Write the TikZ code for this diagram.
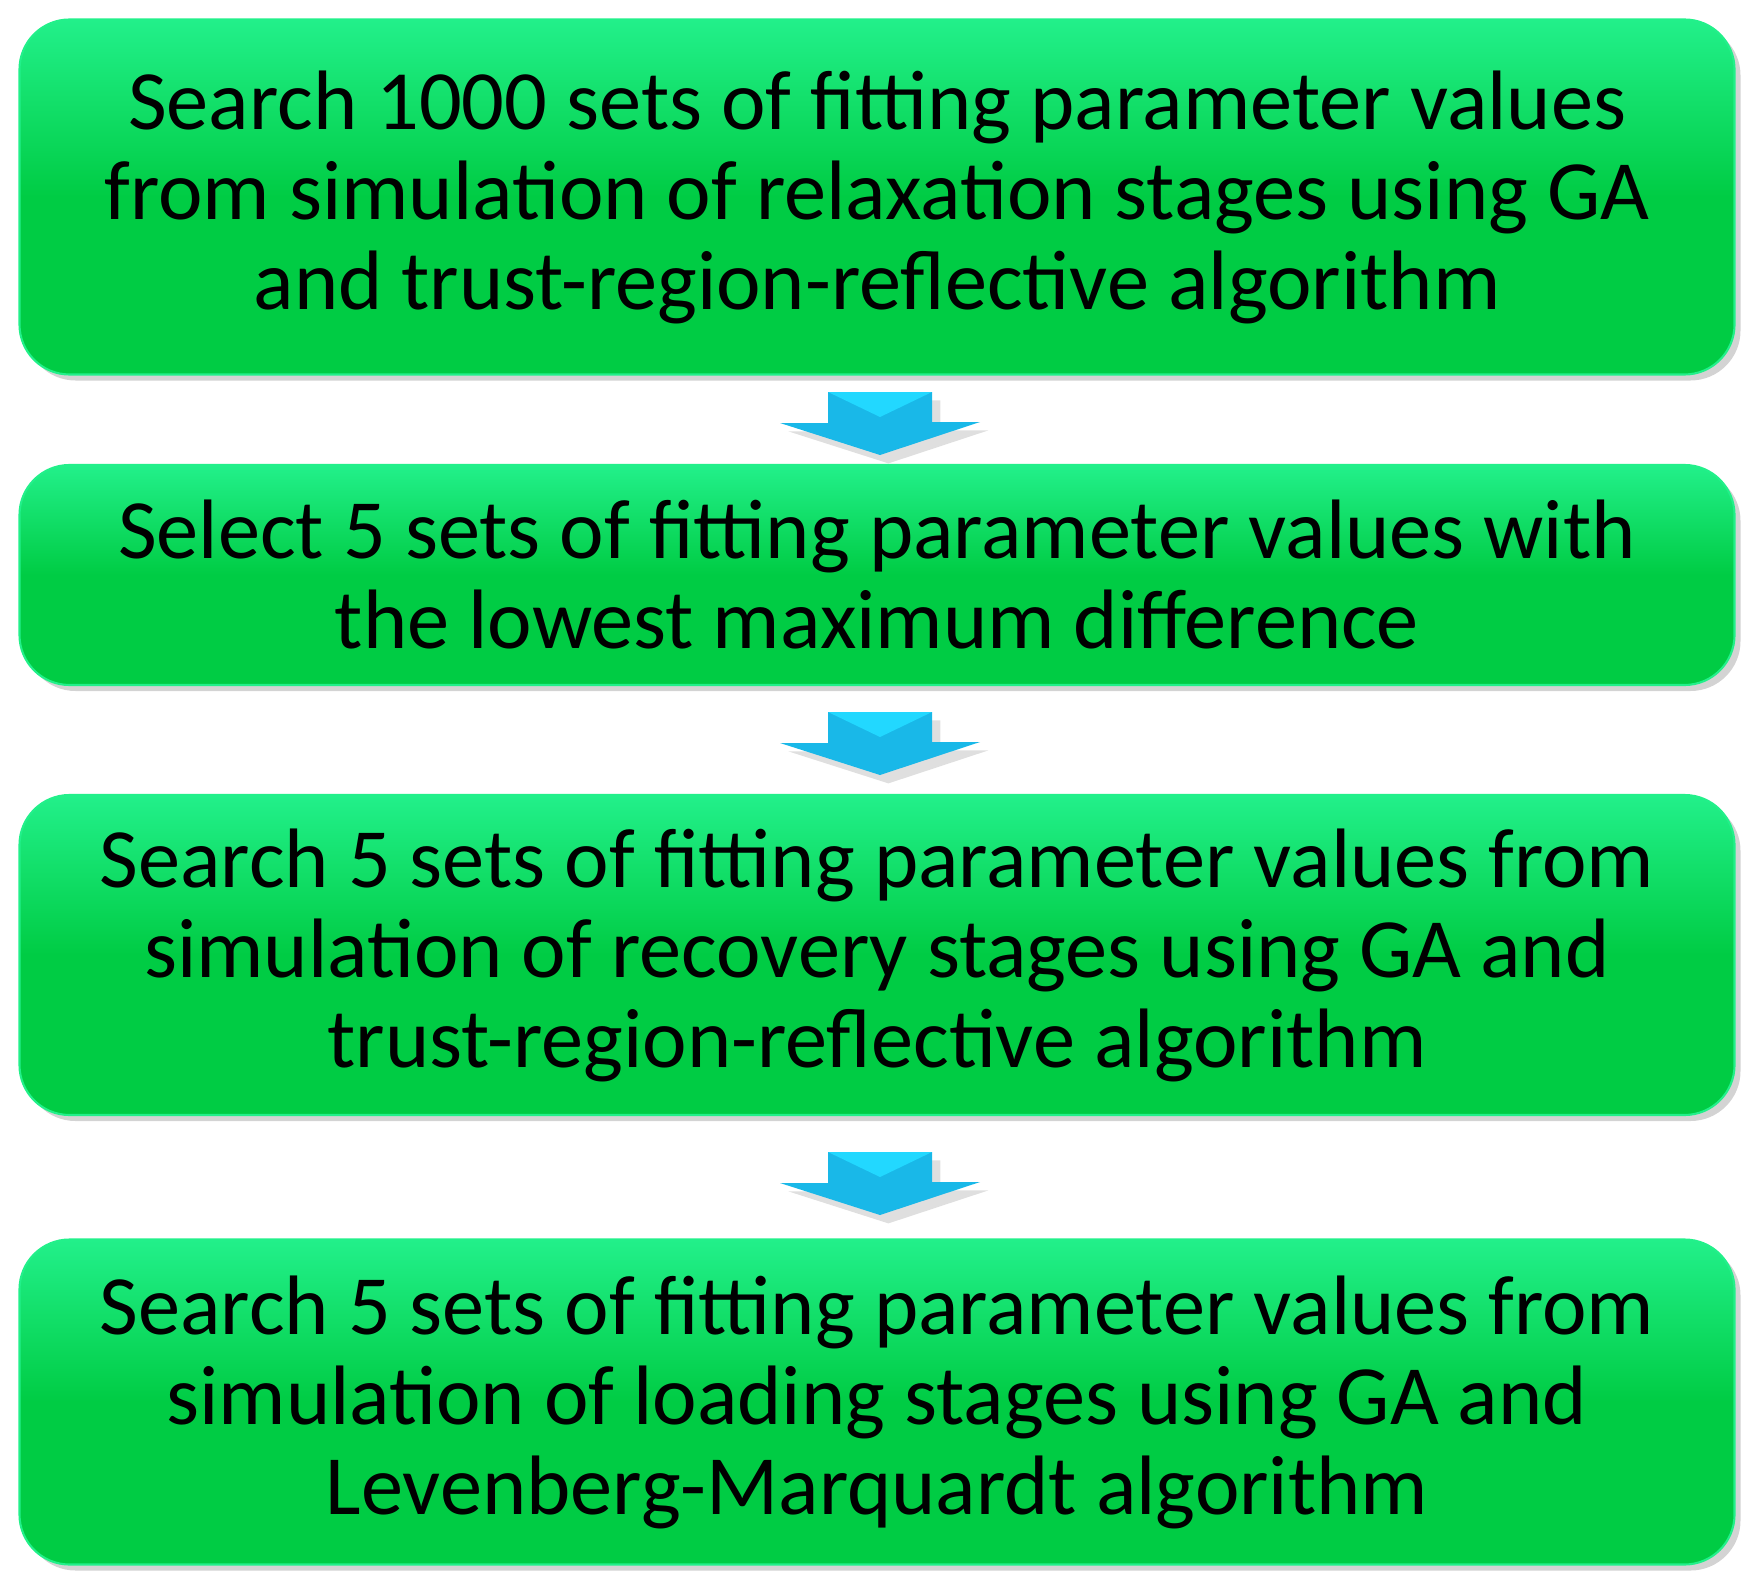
\documentclass[tikz,border=0pt]{standalone}
\usepackage{fontspec}
\setmainfont{Carlito}
\usetikzlibrary{positioning,shadows}
\definecolor{boxgreen}{HTML}{00CC44}
\definecolor{boxtop}{HTML}{22F08A}
\definecolor{arrowblue}{HTML}{19B8E8}
\definecolor{arrowlight}{HTML}{22D8FF}
\tikzset{
  stage/.style={rectangle, rounded corners=0.5cm, minimum width=17.15cm,
    top color=boxtop, bottom color=boxgreen, middle color=boxgreen,
    draw=boxtop, line width=0.6pt, drop shadow={opacity=0.35, shadow xshift=0.06cm, shadow yshift=-0.06cm},
    align=center, font=\fontsize{24}{25.6}\selectfont},
  down/.style={fill=arrowblue, draw=none, drop shadow={opacity=0.25}}
}
\begin{document}
\begin{tikzpicture}
  \useasboundingbox (0,0) rectangle (17.56,-15.88);
  % Place nodes
  \node [stage, minimum height=3.55cm] (search) at (8.77,-1.97)
    {Search 1000 sets of fitting parameter values\\from simulation of relaxation stages using GA\\and trust-region-reflective algorithm};
  \node [stage, minimum height=2.2cm] (select) at (8.77,-5.75)
    {Select 5 sets of fitting parameter values with\\the lowest maximum difference};
  \node [stage, minimum height=3.2cm] (recovery) at (8.77,-9.55)
    {Search 5 sets of fitting parameter values from\\simulation of recovery stages using GA and\\trust-region-reflective algorithm};
  \node [stage, minimum height=3.25cm] (loading) at (8.77,-14.02)
    {Search 5 sets of fitting parameter values from\\simulation of loading stages using GA and\\Levenberg-Marquardt algorithm};
  % arrows between the stages
  \coordinate (a1) at (8.8,-3.92);
  \coordinate (a2) at (8.8,-7.12);
  \coordinate (a3) at (8.8,-11.52);
  \foreach \a in {a1,a2,a3}{
    \path [down] ([xshift=-0.52cm]\a) -- ++(1.04,0) -- ++(0,-0.3) -- ++(0.48,0)
      -- ([yshift=-0.63cm]\a) -- ++(-1,0.32) -- ++(0.48,0) -- cycle;
    \path [fill=arrowlight] ([xshift=-0.52cm]\a) -- ++(1.04,0) -- ([yshift=-0.25cm]\a) -- cycle;
  }
\end{tikzpicture}
\end{document}
